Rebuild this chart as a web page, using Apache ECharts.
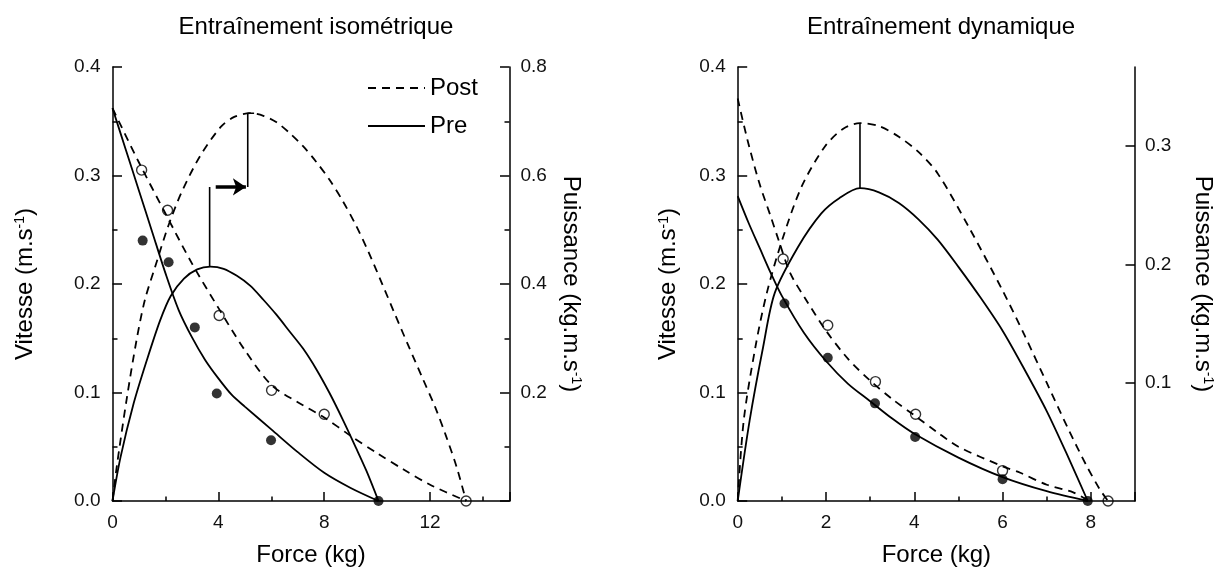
<!DOCTYPE html>
<html>
<head>
<meta charset="utf-8">
<script src="https://cdn.jsdelivr.net/npm/echarts@6/dist/echarts.min.js"></script>
<style>
  html, body { margin: 0; padding: 0; background: #fff; }
  #chart { width: 1226px; height: 574px; }
</style>
</head>
<body>
<div id="chart"></div>
<script>
// ---------------- DATA ----------------
const panelTitles = ['Entraînement isométrique', 'Entraînement dynamique'];
const legendNames = ['Post', 'Pre'];

// Isometric training panel [force kg, velocity m/s] and [force kg, power]
const isoPrePoints  = [[1.14, 0.240], [2.12, 0.220], [3.11, 0.160], [3.94, 0.099], [5.99, 0.056], [10.05, 0]];
const isoPostPoints = [[1.10, 0.305], [2.08, 0.268], [4.03, 0.171], [6.01, 0.102], [8.0, 0.080], [13.36, 0]];
const isoPreVelocity = [[0, 0.362], [0.5, 0.324], [1, 0.286], [1.5, 0.248], [2, 0.210], [2.5, 0.176], [3, 0.151], [3.5, 0.130], [4, 0.113], [4.5, 0.098], [5, 0.087], [6, 0.066], [7, 0.045], [8, 0.026], [9, 0.012], [10.05, 0]];
const isoPostVelocity = [[0, 0.362], [1, 0.312], [2, 0.265], [3, 0.219], [4, 0.178], [5, 0.139], [6, 0.107], [7, 0.091], [8, 0.077], [9, 0.060], [10, 0.044], [11, 0.029], [12, 0.015], [13.36, 0]];
const isoPrePower = [[0, 0], [0.3, 0.08], [0.8, 0.18], [1.3, 0.26], [1.8, 0.333], [2.2, 0.378], [2.7, 0.41], [3.2, 0.427], [3.7, 0.432], [4.2, 0.428], [4.7, 0.415], [5.2, 0.397], [5.7, 0.371], [6.2, 0.343], [6.7, 0.312], [7.2, 0.281], [7.7, 0.243], [8.2, 0.199], [8.7, 0.150], [9.2, 0.098], [9.6, 0.055], [10.05, 0]];
const isoPostPower = [[0, 0], [0.16, 0.063], [0.53, 0.186], [0.91, 0.297], [1.22, 0.37], [1.6, 0.43], [2.1, 0.506], [2.6, 0.568], [3.3, 0.635], [4.1, 0.69], [4.6, 0.708], [5.2, 0.715], [5.7, 0.71], [6.2, 0.698], [6.7, 0.678], [7.2, 0.654], [7.7, 0.625], [8.2, 0.592], [8.7, 0.553], [9.2, 0.508], [9.7, 0.456], [10.2, 0.399], [10.7, 0.341], [11.2, 0.284], [11.7, 0.228], [12.2, 0.172], [12.6, 0.12], [13.0, 0.063], [13.36, 0]];
const isoPeakPreLine = [[3.67, 0.432], [3.67, 0.579]];
const isoArrow = [[3.9, 0.579], [5.04, 0.579]];
const isoPeakPostLine = [[5.11, 0.579], [5.11, 0.7147], [5.35, 0.7147]];

// Dynamic training panel
const dynPrePoints  = [[1.06, 0.182], [2.04, 0.132], [3.11, 0.090], [4.02, 0.059], [6.0, 0.020], [7.93, 0]];
const dynPostPoints = [[1.03, 0.223], [2.04, 0.162], [3.12, 0.110], [4.03, 0.080], [6.0, 0.028], [8.39, 0]];
const dynPreVelocity = [[0, 0.281], [0.25, 0.256], [0.5, 0.233], [0.75, 0.21], [1, 0.189], [1.5, 0.155], [2, 0.129], [2.5, 0.108], [3, 0.092], [3.5, 0.076], [4, 0.062], [5, 0.040], [6, 0.022], [7, 0.009], [7.93, 0]];
const dynPostVelocity = [[0, 0.371], [0.22, 0.333], [0.49, 0.293], [0.75, 0.262], [0.93, 0.24], [1.19, 0.21], [1.54, 0.186], [2, 0.157], [2.5, 0.131], [3, 0.111], [3.5, 0.094], [4, 0.079], [4.5, 0.064], [5, 0.050], [6, 0.032], [6.4, 0.026], [7, 0.015], [7.6, 0.008], [7.95, 0]];
const dynPrePower = [[0, 0], [0.27, 0.068], [0.575, 0.13], [0.84, 0.176], [1.37, 0.215], [1.89, 0.243], [2.3, 0.256], [2.77, 0.2645], [3.2, 0.261], [3.65, 0.252], [4.1, 0.238], [4.53, 0.221], [5, 0.198], [5.5, 0.172], [6, 0.144], [6.5, 0.111], [7, 0.076], [7.5, 0.036], [7.93, 0]];
const dynPostPower = [[0, 0], [0.136, 0.068], [0.4, 0.13], [0.66, 0.176], [1.01, 0.221], [1.45, 0.266], [1.98, 0.300], [2.4, 0.315], [2.77, 0.3195], [3.2, 0.317], [3.65, 0.308], [4.1, 0.295], [4.53, 0.277], [5.23, 0.232], [6, 0.178], [6.5, 0.14], [7, 0.1], [7.5, 0.06], [7.9, 0.03], [8.2, 0.01], [8.39, 0]];
const dynPeakLine = [[2.77, 0.2645], [2.77, 0.3195]];

// Axis ranges / ticks
const isoForceRange = [0, 15];
const dynForceRange = [0, 9];
const velocityRange = [0, 0.4];
const isoPowerRange = [0, 0.8];
const dynPowerRange = [0, 0.367];
const dynPowerTicks = [0.1, 0.2, 0.3];

// ---------------- CHART ----------------
const FONT = "'Liberation Sans', Arial, Helvetica, sans-serif";
const BLACK = '#000';
const axisLineStyle = { color: BLACK, width: 1.5 };
const nameStyle = (extra) => Object.assign({
  fontSize: 24, color: BLACK, fontFamily: FONT,
  rich: { sup: { fontSize: 14, color: BLACK, fontFamily: FONT, verticalAlign: 'top', lineHeight: 14 } }
}, extra || {});
const labelStyle = { fontSize: 19, color: '#111', fontFamily: FONT };

function majorX(grid, range, interval, labelEvery) {
  return {
    gridIndex: grid, type: 'value', min: range[0], max: range[1], interval: interval,
    position: 'bottom',
    name: 'Force (kg)', nameLocation: 'middle', nameGap: 42, nameTextStyle: nameStyle(),
    axisLine: { show: true, onZero: false, lineStyle: axisLineStyle },
    axisTick: { show: true, inside: true, length: 9, lineStyle: axisLineStyle },
    axisLabel: Object.assign({ margin: 12,
      formatter: v => (Math.abs(v / labelEvery - Math.round(v / labelEvery)) < 1e-6) ? String(v) : '' }, labelStyle),
    splitLine: { show: false }
  };
}
function minorX(grid, range, interval) {
  return {
    gridIndex: grid, type: 'value', min: range[0], max: range[1], interval: interval,
    position: 'bottom',
    axisLine: { show: false, onZero: false },
    axisTick: { show: true, inside: true, length: 4.5, lineStyle: axisLineStyle },
    axisLabel: { show: false }, splitLine: { show: false }
  };
}

const option = {
  animation: false,
  backgroundColor: '#fff',
  textStyle: { fontFamily: FONT },
  title: [
    { text: panelTitles[0], left: 311, top: 10, textAlign: 'center',
      textStyle: { fontSize: 24, fontWeight: 'normal', color: BLACK, fontFamily: FONT } },
    { text: panelTitles[1], left: 936, top: 10, textAlign: 'center',
      textStyle: { fontSize: 24, fontWeight: 'normal', color: BLACK, fontFamily: FONT } }
  ],
  legend: {
    data: legendNames, orient: 'vertical', left: 362, top: 71,
    itemWidth: 57, itemHeight: 14, itemGap: 14, selectedMode: false,
    itemStyle: { opacity: 0, borderWidth: 0 },
    textStyle: { fontSize: 24, color: BLACK, fontFamily: FONT }
  },
  grid: [
    { left: 112.5, top: 67, width: 397, height: 434 },
    { left: 737.7, top: 67, width: 397.3, height: 434 }
  ],
  xAxis: [
    majorX(0, isoForceRange, 4, 4),
    minorX(0, isoForceRange, 2),
    majorX(1, dynForceRange, 2, 2),
    minorX(1, dynForceRange, 1)
  ],
  yAxis: [
    {
      gridIndex: 0, type: 'value', min: velocityRange[0], max: velocityRange[1], interval: 0.1, position: 'left',
      name: 'Vitesse (m.s{sup|-1})', nameLocation: 'middle', nameRotate: 90, nameGap: 75, nameTextStyle: nameStyle(),
      axisLine: { show: true, onZero: false, lineStyle: axisLineStyle },
      axisTick: { show: true, inside: true, length: 9.5, lineStyle: axisLineStyle },
      minorTick: { show: true, splitNumber: 2, length: 5, lineStyle: axisLineStyle },
      axisLabel: Object.assign({ margin: 12, formatter: v => v.toFixed(1) }, labelStyle),
      splitLine: { show: false }, minorSplitLine: { show: false }
    },
    {
      gridIndex: 0, type: 'value', min: isoPowerRange[0], max: isoPowerRange[1], interval: 0.2, position: 'right',
      name: 'Puissance (kg.m.s{sup|-1})', nameLocation: 'middle', nameRotate: -90, nameGap: 49, nameTextStyle: nameStyle(),
      axisLine: { show: true, onZero: false, lineStyle: axisLineStyle },
      axisTick: { show: true, inside: true, length: 9.5, lineStyle: axisLineStyle },
      minorTick: { show: true, splitNumber: 2, length: 5, lineStyle: axisLineStyle },
      axisLabel: Object.assign({ margin: 11, formatter: v => v === 0 ? '' : v.toFixed(1) }, labelStyle),
      splitLine: { show: false }, minorSplitLine: { show: false }
    },
    {
      gridIndex: 1, type: 'value', min: velocityRange[0], max: velocityRange[1], interval: 0.1, position: 'left',
      name: 'Vitesse (m.s{sup|-1})', nameLocation: 'middle', nameRotate: 90, nameGap: 57, nameTextStyle: nameStyle(),
      axisLine: { show: true, onZero: false, lineStyle: axisLineStyle },
      axisTick: { show: true, inside: true, length: 9.5, lineStyle: axisLineStyle },
      minorTick: { show: true, splitNumber: 2, length: 5, lineStyle: axisLineStyle },
      axisLabel: Object.assign({ margin: 12, formatter: v => v.toFixed(1) }, labelStyle),
      splitLine: { show: false }, minorSplitLine: { show: false }
    },
    {
      gridIndex: 1, type: 'value', min: dynPowerRange[0], max: dynPowerRange[1], interval: 0.1, position: 'right',
      name: 'Puissance (kg.m.s{sup|-1})', nameLocation: 'middle', nameRotate: -90, nameGap: 56, nameTextStyle: nameStyle(),
      axisLine: { show: true, onZero: false, lineStyle: axisLineStyle },
      axisTick: { show: true, inside: true, length: 9.5, lineStyle: axisLineStyle, customValues: dynPowerTicks },
      axisLabel: Object.assign({ margin: 10, customValues: dynPowerTicks,
        formatter: v => (v > 0 && Math.abs(v * 10 - Math.round(v * 10)) < 1e-6) ? v.toFixed(1) : '' }, labelStyle),
      splitLine: { show: false }
    }
  ],
  series: []
};

function curve(name, data, xi, yi, dashed) {
  return {
    type: 'line', name: name, data: data, xAxisIndex: xi, yAxisIndex: yi,
    symbol: 'none', smooth: 0.3, silent: true, z: 2,
    lineStyle: { color: BLACK, width: 1.8, type: dashed ? [8, 6] : 'solid' },
    itemStyle: { color: BLACK }
  };
}
function marker(name, data, xi, yi) {
  return {
    type: 'line', name: name, data: data, xAxisIndex: xi, yAxisIndex: yi,
    symbol: 'none', smooth: false, silent: true, z: 2,
    lineStyle: { color: BLACK, width: 1.6, type: 'solid' }
  };
}
function dots(name, data, xi, yi, filled) {
  return {
    type: 'scatter', name: name, data: data, xAxisIndex: xi, yAxisIndex: yi,
    symbol: 'circle', symbolSize: 10, silent: true, z: 5,
    itemStyle: filled ? { color: BLACK } : { color: 'rgba(255,255,255,0)', borderColor: BLACK, borderWidth: 1.4 }
  };
}

option.series.push(
  curve('Post', isoPostVelocity, 0, 0, true),
  curve('Pre', isoPreVelocity, 0, 0, false),
  curve('Post', isoPostPower, 0, 1, true),
  curve('Pre', isoPrePower, 0, 1, false),
  marker('isoPeakPre', isoPeakPreLine, 0, 1),
  marker('isoPeakPost', isoPeakPostLine, 0, 1),
  {
    type: 'lines', name: 'isoArrow', coordinateSystem: 'cartesian2d', xAxisIndex: 0, yAxisIndex: 1,
    silent: true, z: 3,
    data: [{ coords: isoArrow }],
    symbol: ['none', 'arrow'], symbolSize: 13,
    lineStyle: { color: BLACK, width: 3.5, opacity: 1, curveness: 0 }
  },
  dots('PrePts', isoPrePoints, 0, 0, true),
  dots('PostPts', isoPostPoints, 0, 0, false),

  curve('Post', dynPostVelocity, 2, 2, true),
  curve('Pre', dynPreVelocity, 2, 2, false),
  curve('Post', dynPostPower, 2, 3, true),
  curve('Pre', dynPrePower, 2, 3, false),
  marker('dynPeak', dynPeakLine, 2, 3),
  dots('PrePts', dynPrePoints, 2, 2, true),
  dots('PostPts', dynPostPoints, 2, 2, false)
);

const chart = echarts.init(document.getElementById('chart'), null, { renderer: 'canvas' });
chart.setOption(option);
</script>
</body>
</html>
